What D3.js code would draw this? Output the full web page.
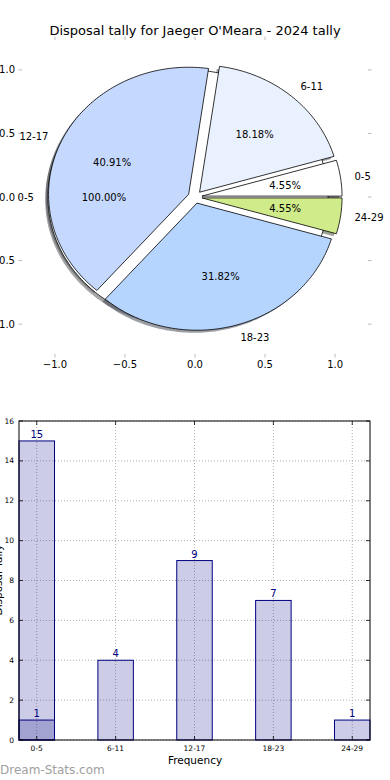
<!DOCTYPE html>
<html>
<head>
<meta charset="utf-8">
<script src="https://cdn.jsdelivr.net/npm/d3@7"></script>
<style>
  body { margin: 0; background: #fff; }
  svg { display: block; font-family: "DejaVu Sans", sans-serif; }
</style>
</head>
<body>
<svg id="chart" width="390" height="780"></svg>
<script>
// data
const ageGroups = ['0-5', '6-11', '12-17', '18-23', '24-29'];
const tally = [1, 4, 9, 7, 1];
const extraGroups = ['0-5'];
const extraTally = [15];
const pieColors = ['#ffffff', '#eaf1fe', '#c5d9fe', '#b6d5fe', '#cfeb8a'];
const pieTicks = [-1.0, -0.5, 0.0, 0.5, 1.0];
const barTicks = [0, 2, 4, 6, 8, 10, 12, 14, 16];

const svg = d3.select('#chart');

// ---------- pie ----------
const xP = d3.scaleLinear().domain([-1.235, 1.235]).range([22, 368]);
const yP = d3.scaleLinear().domain([-1.235, 1.235]).range([354, 40]);
const explode = 0.05;
const shadowOff = -0.02;

svg.append('text')
  .attr('x', 195).attr('y', 35)
  .attr('text-anchor', 'middle')
  .attr('font-size', 13)
  .text("Disposal tally for Jaeger O'Meara - 2024 tally");

// ticks of the pie axes (grey, outward, on all four sides)
const pieAxis = svg.append('g').attr('stroke', '#bbb').attr('stroke-width', 1);
pieTicks.forEach(t => {
  pieAxis.append('line').attr('x1', xP(t)).attr('x2', xP(t)).attr('y1', 354).attr('y2', 357.5);
  pieAxis.append('line').attr('x1', xP(t)).attr('x2', xP(t)).attr('y1', 40).attr('y2', 36.5);
  pieAxis.append('line').attr('y1', yP(t)).attr('y2', yP(t)).attr('x1', 22).attr('x2', 18.5);
  pieAxis.append('line').attr('y1', yP(t)).attr('y2', yP(t)).attr('x1', 368).attr('x2', 371.5);
});
const fmt = d => d3.format('.1f')(d).replace('-', '\u2212');
svg.append('g').selectAll('text').data(pieTicks).join('text')
  .attr('x', d => xP(d)).attr('y', 368)
  .attr('text-anchor', 'middle').attr('font-size', 10)
  .text(fmt);
svg.append('g').selectAll('text').data(pieTicks).join('text')
  .attr('x', 15).attr('y', d => yP(d) + 3.5)
  .attr('text-anchor', 'end').attr('font-size', 10)
  .text(fmt);

const pie = d3.pie().sort(null).startAngle(0).endAngle(2 * Math.PI);
const lineGen = d3.line();

function wedgePath(cx, cy, a0, a1, full, dx, dy) {
  const steps = Math.max(8, Math.ceil((a1 - a0) / 0.02));
  const pts = d3.range(steps + 1).map(i => {
    const t = a0 + (a1 - a0) * i / steps;
    return [xP(cx + Math.cos(t)) + dx, yP(cy + Math.sin(t)) + dy];
  });
  if (!full) pts.unshift([xP(cx) + dx, yP(cy) + dy]);
  return lineGen(pts) + 'Z';
}

function buildSlices(groups, values) {
  const total = d3.sum(values);
  return pie(values).map((d, i) => {
    const mid = (d.startAngle + d.endAngle) / 2;
    return {
      label: groups[i],
      pct: (100 * values[i] / total).toFixed(2) + '%',
      a0: d.startAngle, a1: d.endAngle, mid,
      full: d.endAngle - d.startAngle > 2 * Math.PI - 1e-9,
      cx: explode * Math.cos(mid), cy: explode * Math.sin(mid),
      color: pieColors[i]
    };
  });
}

const fullPie = buildSlices(extraGroups, extraTally);
const mainPie = buildSlices(ageGroups, tally);
const allSlices = fullPie.concat(mainPie);

const sdx = xP(shadowOff) - xP(0);
const sdy = yP(shadowOff) - yP(0);

// shadows sit under every wedge
svg.append('g').selectAll('path').data(allSlices).join('path')
  .attr('d', d => wedgePath(d.cx, d.cy, d.a0, d.a1, d.full, sdx, sdy))
  .attr('fill', d => {
    const c = d3.rgb(d.color);
    return d3.rgb(c.r * 0.3, c.g * 0.3, c.b * 0.3);
  })
  .attr('fill-opacity', 0.5);

svg.append('g').selectAll('path').data(allSlices).join('path')
  .attr('d', d => wedgePath(d.cx, d.cy, d.a0, d.a1, d.full, 0, 0))
  .attr('fill', d => d.color)
  .attr('stroke', '#000')
  .attr('stroke-width', 0.8)
  .attr('stroke-linejoin', 'round');

const labels = svg.append('g').attr('font-size', 10);
allSlices.forEach(d => {
  const lx = d.cx + 1.1 * Math.cos(d.mid);
  const ly = d.cy + 1.1 * Math.sin(d.mid);
  labels.append('text')
    .attr('x', xP(lx)).attr('y', yP(ly) + 3.5)
    .attr('text-anchor', lx > 0 ? 'start' : 'end')
    .text(d.label);
  labels.append('text')
    .attr('x', xP(d.cx + 0.6 * Math.cos(d.mid)))
    .attr('y', yP(d.cy + 0.6 * Math.sin(d.mid)) + 3.5)
    .attr('text-anchor', 'middle')
    .text(d.pct);
});

// ---------- bars ----------
const barW = 0.45;
const xB = d3.scaleLinear().domain([-barW / 2, ageGroups.length - 1 + barW / 2]).range([19, 370]);
const yB = d3.scaleLinear().domain([0, 16]).range([740, 421]);

const grid = svg.append('g')
  .attr('stroke', '#b0b0b0').attr('stroke-width', 1).attr('stroke-dasharray', '1,2');
barTicks.forEach(t => {
  grid.append('line').attr('x1', 19).attr('x2', 370).attr('y1', yB(t)).attr('y2', yB(t));
});
ageGroups.forEach((g, i) => {
  grid.append('line').attr('x1', xB(i)).attr('x2', xB(i)).attr('y1', 421).attr('y2', 740);
});

const bars = svg.append('g');
function drawBars(values) {
  bars.append('g').selectAll('rect').data(values).join('rect')
    .attr('x', (d, i) => xB(i - barW / 2))
    .attr('y', d => yB(d))
    .attr('width', xB(barW) - xB(0))
    .attr('height', d => yB(0) - yB(d))
    .attr('fill', '#000080').attr('fill-opacity', 0.2)
    .attr('stroke', '#000080').attr('stroke-width', 1);
  bars.append('g').selectAll('text').data(values).join('text')
    .attr('x', (d, i) => xB(i))
    .attr('y', d => yB(d) - 3)
    .attr('text-anchor', 'middle')
    .attr('font-size', 10)
    .attr('fill', '#000080')
    .text(d => d);
}
drawBars(extraTally);
drawBars(tally);

// frame and ticks
svg.append('rect')
  .attr('x', 19).attr('y', 421).attr('width', 351).attr('height', 319)
  .attr('fill', 'none').attr('stroke', '#000').attr('stroke-width', 1);

const bt = svg.append('g').attr('stroke', '#000').attr('stroke-width', 0.8);
barTicks.forEach(t => {
  bt.append('line').attr('x1', 19).attr('x2', 23).attr('y1', yB(t)).attr('y2', yB(t));
  bt.append('line').attr('x1', 370).attr('x2', 366).attr('y1', yB(t)).attr('y2', yB(t));
});
ageGroups.forEach((g, i) => {
  bt.append('line').attr('x1', xB(i)).attr('x2', xB(i)).attr('y1', 740).attr('y2', 736);
  bt.append('line').attr('x1', xB(i)).attr('x2', xB(i)).attr('y1', 421).attr('y2', 425);
});

svg.append('g').selectAll('text').data(barTicks).join('text')
  .attr('x', 14).attr('y', d => yB(d) + 2.5)
  .attr('text-anchor', 'end').attr('font-size', 7.5)
  .text(d => d);
svg.append('g').selectAll('text').data(ageGroups).join('text')
  .attr('x', (d, i) => xB(i)).attr('y', 751)
  .attr('text-anchor', 'middle').attr('font-size', 7.5)
  .text(d => d);

svg.append('text')
  .attr('x', 195).attr('y', 764)
  .attr('text-anchor', 'middle').attr('font-size', 10.5)
  .text('Frequency');

svg.append('text')
  .attr('transform', 'translate(2,580) rotate(-90)')
  .attr('text-anchor', 'middle').attr('font-size', 10.5)
  .text('Disposal Tally');

svg.append('text')
  .attr('x', 0).attr('y', 774)
  .attr('font-size', 12).attr('fill', '#a0a0a0')
  .text('Dream-Stats.com');
</script>
</body>
</html>
